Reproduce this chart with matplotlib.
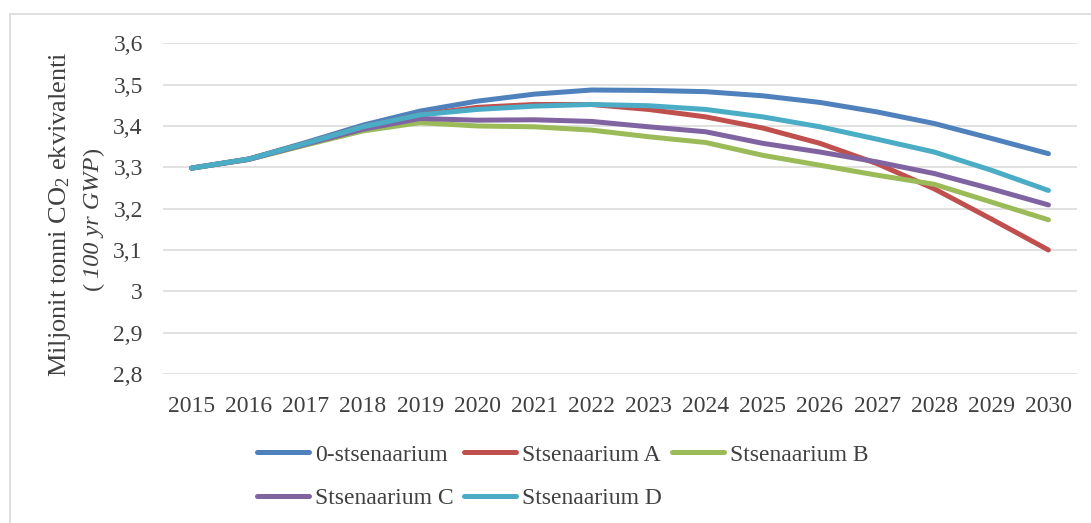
import matplotlib
matplotlib.use("Agg")
import matplotlib.pyplot as plt
from matplotlib.patches import Rectangle
from matplotlib.ticker import FixedLocator, FuncFormatter

plt.rcParams["font.family"] = ["Liberation Serif", "DejaVu Serif"]
plt.rcParams["mathtext.fontset"] = "custom"
plt.rcParams["mathtext.rm"] = "Liberation Serif"
plt.rcParams["mathtext.it"] = "Liberation Serif:italic"

years = list(range(2015, 2031))
series_names = ["0-stsenaarium", "Stsenaarium A", "Stsenaarium B",
                "Stsenaarium C", "Stsenaarium D"]
zero_scen = [3.298, 3.320, 3.360, 3.402, 3.436, 3.460, 3.477, 3.487,
             3.486, 3.483, 3.473, 3.457, 3.434, 3.406, 3.370, 3.333]
scen_a = [3.298, 3.320, 3.358, 3.398, 3.427, 3.445, 3.452, 3.452,
          3.440, 3.422, 3.395, 3.358, 3.309, 3.248, 3.175, 3.100]
scen_b = [3.298, 3.319, 3.354, 3.388, 3.408, 3.400, 3.398, 3.390,
          3.374, 3.360, 3.329, 3.305, 3.281, 3.259, 3.216, 3.173]
scen_c = [3.298, 3.319, 3.356, 3.392, 3.418, 3.414, 3.415, 3.411,
          3.398, 3.386, 3.358, 3.337, 3.313, 3.285, 3.248, 3.209]
scen_d = [3.298, 3.320, 3.358, 3.398, 3.427, 3.440, 3.448, 3.452,
          3.449, 3.440, 3.422, 3.398, 3.368, 3.337, 3.293, 3.244]
y_ticks = [2.8, 2.9, 3.0, 3.1, 3.2, 3.3, 3.4, 3.5, 3.6]

colors = ["#4F81BD", "#C0504D", "#9BBB59", "#8064A2", "#4BACC6"]
all_series = [zero_scen, scen_a, scen_b, scen_c, scen_d]
text_color = "#404040"

W, H = 1091, 523
fig = plt.figure(figsize=(W / 100, H / 100), dpi=100)
fig.patch.set_facecolor("white")

# light frame around the chart area
fig.patches.append(Rectangle((10 / W, -0.05), 1.2, 1 - 14 / H + 0.05,
                             transform=fig.transFigure, fill=False,
                             edgecolor="#D9D9D9", linewidth=1.2))

ax = fig.add_axes([163 / W, 1 - 374 / H, (1077 - 163) / W, (374 - 43.3) / H])
x = list(range(len(years)))
lines = []
for name, vals, c in zip(series_names, all_series, colors):
    ln, = ax.plot(x, vals, color=c, lw=3.6, label=name, solid_capstyle="round",
                  solid_joinstyle="round")
    lines.append(ln)

ax.set_xlim(-0.5, len(years) - 0.5)
ax.set_ylim(2.8, 3.6)
ax.yaxis.set_major_locator(FixedLocator(y_ticks))
ax.yaxis.set_major_formatter(FuncFormatter(lambda v, p: f"{v:g}".replace(".", ",")))
ax.set_xticks(x)
ax.set_xticklabels([str(y) for y in years])
ax.grid(axis="y", color="#D9D9D9", lw=1.1)
ax.set_axisbelow(True)
for s in ax.spines.values():
    s.set_visible(False)
ax.tick_params(axis="both", length=0, labelsize=17, colors=text_color)
ax.tick_params(axis="y", pad=14.5)
ax.tick_params(axis="x", pad=15.5)

# y-axis title, first line
fig.text(60 / W, 1 - 214 / H, r"Miljonit tonni CO$_2$ ekvivalenti",
         rotation=90, ha="center", va="center", fontsize=19, color=text_color)

# y-axis title, second line: upright brackets around italic text
fig.canvas.draw()
renderer = fig.canvas.get_renderer()
pieces = [("(", "normal", 4), ("100 yr GWP", "italic", 0), (")", "normal", 0)]
texts = []
pos = 0.0
for s, st, gap in pieces:
    t = fig.text(99 / W, 0.5, s, rotation=90, rotation_mode="anchor",
                 ha="left", va="baseline", fontsize=17.5, style=st, color=text_color)
    texts.append((t, pos))
    pos += t.get_window_extent(renderer).height + gap
start_px = 219 + pos / 2  # pixels from top where the line begins
for t, off in texts:
    t.set_y(1 - (start_px - off) / H)

# legend filled row by row: 0, A, B / C, D
order = [0, 3, 1, 4, 2]
leg = fig.legend([lines[i] for i in order], [series_names[i] for i in order],
                 loc="upper left", bbox_to_anchor=(257 / W, 1 - 444 / H),
                 ncol=3, frameon=False, fontsize=17, handlelength=2.2,
                 handletextpad=0.25, columnspacing=0.45, labelspacing=0.93,
                 borderaxespad=0, borderpad=0)
for t in leg.get_texts():
    t.set_color(text_color)
for h in leg.get_lines():
    h.set_linewidth(3.6)
    h.set_solid_capstyle("round")

fig.savefig("out.png", dpi=100, facecolor="white")
